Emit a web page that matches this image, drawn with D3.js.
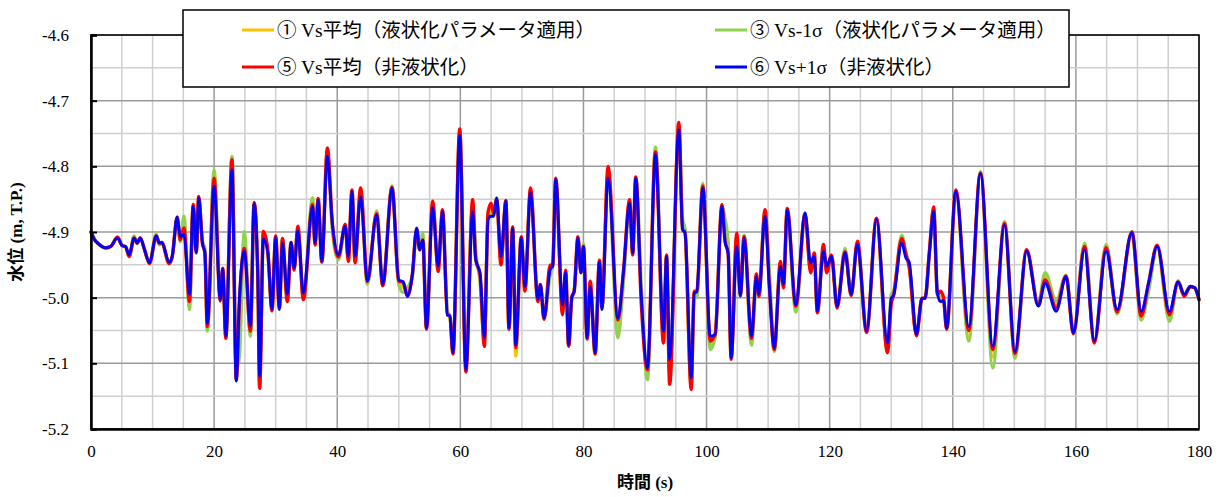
<!DOCTYPE html>
<html><head><meta charset="utf-8">
<script src="https://cdn.jsdelivr.net/npm/d3@7/dist/d3.min.js"></script>
<style>
html,body{margin:0;padding:0;background:#fff;}
svg{display:block;}
text{font-family:"Liberation Serif","Noto Sans CJK JP",serif;fill:#000;}
</style></head>
<body><svg id="chart" width="1226" height="497"></svg>
<script>
const time = [0,0.6,1.1,2.4,3.2,4.3,5.1,5.6,6.2,7.0,
7.5,8.0,8.7,9.5,10.6,11.1,11.5,12.7,13.2,14.0,
14.5,15.1,16.0,16.6,17.1,17.5,18.1,18.5,18.9,20.0,
21.0,21.4,21.9,22.9,23.6,24.1,24.9,25.9,26.5,27.1,
27.4,28.0,28.7,29.4,30.0,30.6,31.1,31.9,32.5,33.0,
33.6,34.5,36.0,36.4,36.9,37.5,38.4,39.2,40.2,41.3,
41.8,42.4,42.9,43.8,44.9,46.4,47.4,48.9,50.0,50.7,
51.4,52.2,52.9,53.4,53.9,54.5,55.5,56.4,57.1,57.9,
58.3,58.8,59.9,60.9,62.0,62.5,63.2,63.9,64.5,65.0,
65.4,65.9,66.6,67.4,67.9,68.5,69.0,69.9,70.5,71.4,
72.6,73.0,73.6,74.6,75.0,75.5,76.6,77.1,77.6,78.1,
78.5,79.1,79.6,80.0,80.6,81.1,81.9,82.6,83.0,84.0,
85.6,86.5,87.5,88.0,88.5,89.4,90.4,91.7,93.0,93.5,
94.0,95.5,96.1,96.5,97.5,98.0,98.4,99.4,100.6,101.4,
102.5,103.0,103.5,104.0,104.9,105.5,106.1,107.3,108.1,108.5,
109.5,110.2,111.0,112.0,112.5,113.1,114.5,116.0,116.9,117.5,
118.0,119.0,119.5,120.3,121.2,122.5,123.5,124.5,126.0,127.6,
129.4,130.0,130.4,131.7,132.4,132.9,134.1,135.0,135.5,136.2,
136.9,137.5,138.0,138.5,139.0,140.5,142.6,144.5,146.5,148.4,
150.1,152.0,153.9,155.0,156.8,158.4,159.6,161.4,163.0,164.9,
166.7,169.1,170.6,171.8,173.2,175.2,176.6,177.6,178.6,179.3,
180.0];

// ① Vs平均（液状化パラメータ適用）
const vsAvgLiq = [-4.900,-4.912,-4.917,-4.924,-4.922,-4.908,-4.921,-4.922,-4.937,-4.907,
-4.917,-4.909,-4.927,-4.948,-4.904,-4.919,-4.916,-4.948,-4.937,-4.878,
-4.912,-4.885,-5.010,-4.860,-4.931,-4.847,-4.916,-4.928,-5.047,-4.812,
-5.002,-4.956,-5.060,-4.788,-5.118,-5.040,-4.912,-5.055,-4.856,-4.965,
-5.135,-4.902,-4.928,-5.018,-4.907,-5.017,-4.911,-5.003,-4.916,-4.956,
-4.893,-5.000,-4.853,-4.918,-4.850,-4.945,-4.776,-4.890,-4.940,-4.890,
-4.942,-4.837,-4.944,-4.836,-4.978,-4.870,-4.981,-4.831,-4.977,-4.984,
-4.990,-4.966,-4.895,-4.927,-4.907,-5.047,-4.856,-4.955,-4.868,-5.023,
-5.028,-5.085,-4.747,-5.106,-4.856,-4.936,-4.970,-5.070,-4.876,-4.862,
-4.874,-4.849,-4.945,-4.853,-5.047,-4.893,-5.089,-4.908,-4.988,-4.836,
-5.003,-4.980,-5.032,-4.960,-4.952,-4.820,-5.020,-4.960,-5.073,-5.000,
-4.990,-4.909,-4.962,-4.920,-5.062,-4.979,-5.085,-4.944,-5.017,-4.808,
-5.045,-4.968,-4.853,-4.933,-4.817,-4.992,-5.115,-4.775,-5.060,-4.936,
-5.118,-4.738,-4.888,-4.898,-5.135,-4.992,-4.995,-4.828,-5.072,-5.058,
-4.860,-4.897,-4.923,-5.093,-4.906,-4.996,-4.906,-5.066,-4.970,-4.996,
-4.868,-4.972,-5.080,-4.948,-4.982,-4.866,-5.016,-4.872,-4.955,-4.935,
-5.022,-4.927,-4.957,-4.936,-5.014,-4.928,-4.996,-4.917,-5.052,-4.880,
-5.082,-5.003,-4.993,-4.908,-4.934,-4.950,-5.057,-5.001,-5.001,-4.931,
-4.865,-4.994,-4.998,-5.002,-5.047,-4.838,-5.060,-4.809,-5.090,-4.886,
-5.088,-4.928,-5.010,-4.968,-5.010,-4.966,-5.054,-4.920,-5.067,-4.922,
-5.022,-4.900,-5.030,-4.985,-4.922,-5.030,-4.975,-4.996,-4.983,-4.985,
-5.003];

// ③ Vs-1σ（液状化パラメータ適用）
const vsMinusLiq = [-4.900,-4.912,-4.917,-4.924,-4.922,-4.908,-4.921,-4.922,-4.938,-4.906,
-4.917,-4.909,-4.927,-4.947,-4.903,-4.920,-4.916,-4.948,-4.937,-4.877,
-4.915,-4.876,-5.018,-4.862,-4.932,-4.848,-4.915,-4.925,-5.051,-4.805,
-4.998,-4.956,-5.058,-4.785,-5.110,-5.090,-4.899,-5.059,-4.858,-4.960,
-5.130,-4.905,-4.930,-5.015,-4.908,-5.018,-4.912,-5.000,-4.916,-4.955,
-4.895,-4.998,-4.848,-4.917,-4.851,-4.945,-4.780,-4.895,-4.942,-4.891,
-4.940,-4.838,-4.942,-4.840,-4.980,-4.868,-4.980,-4.830,-4.980,-4.992,
-4.985,-4.968,-4.894,-4.927,-4.902,-5.046,-4.858,-4.950,-4.869,-5.020,
-5.028,-5.084,-4.750,-5.100,-4.860,-4.930,-4.975,-5.066,-4.881,-4.870,
-4.876,-4.848,-4.942,-4.853,-5.046,-4.894,-5.078,-4.909,-4.986,-4.838,
-5.000,-4.980,-5.031,-4.965,-4.952,-4.822,-5.015,-4.962,-5.072,-5.000,
-4.990,-4.911,-4.962,-4.918,-5.061,-4.983,-5.084,-4.945,-5.018,-4.815,
-5.061,-4.975,-4.855,-4.932,-4.818,-4.985,-5.125,-4.771,-5.055,-4.937,
-5.110,-4.742,-4.880,-4.895,-5.132,-4.993,-5.000,-4.826,-5.079,-5.060,
-4.862,-4.880,-4.915,-5.092,-4.910,-4.998,-4.905,-5.072,-4.975,-4.995,
-4.870,-4.960,-5.082,-4.952,-4.980,-4.868,-5.022,-4.871,-4.950,-4.937,
-5.021,-4.925,-4.952,-4.937,-5.012,-4.925,-4.995,-4.920,-5.051,-4.880,
-5.080,-4.995,-4.990,-4.905,-4.932,-4.948,-5.056,-5.001,-5.001,-4.932,
-4.868,-4.993,-5.006,-5.004,-5.046,-4.840,-5.066,-4.808,-5.107,-4.884,
-5.092,-4.930,-5.008,-4.962,-5.005,-4.966,-5.054,-4.917,-5.066,-4.919,
-5.025,-4.901,-5.034,-4.990,-4.924,-5.036,-4.974,-4.995,-4.983,-4.985,
-5.003];

// ⑤ Vs平均（非液状化）
const vsAvgNon = [-4.900,-4.912,-4.917,-4.924,-4.922,-4.908,-4.921,-4.922,-4.937,-4.909,
-4.917,-4.909,-4.927,-4.948,-4.906,-4.917,-4.916,-4.948,-4.937,-4.878,
-4.912,-4.894,-5.006,-4.858,-4.930,-4.846,-4.917,-4.932,-5.044,-4.818,
-5.005,-4.955,-5.062,-4.790,-5.125,-5.010,-4.925,-5.051,-4.855,-4.970,
-5.138,-4.899,-4.925,-5.020,-4.906,-5.016,-4.910,-5.006,-4.916,-4.958,
-4.891,-5.003,-4.858,-4.920,-4.849,-4.946,-4.772,-4.886,-4.938,-4.888,
-4.945,-4.836,-4.947,-4.833,-4.975,-4.872,-4.982,-4.832,-4.975,-4.976,
-4.998,-4.965,-4.896,-4.927,-4.912,-5.048,-4.853,-4.960,-4.866,-5.026,
-5.028,-5.086,-4.743,-5.113,-4.851,-4.942,-4.965,-5.074,-4.870,-4.856,
-4.872,-4.850,-4.950,-4.852,-5.048,-4.892,-5.076,-4.907,-4.990,-4.833,
-5.006,-4.980,-5.033,-4.950,-4.952,-4.818,-5.026,-4.958,-5.074,-5.000,
-4.990,-4.907,-4.962,-4.922,-5.063,-4.975,-5.086,-4.943,-5.015,-4.800,
-5.034,-4.960,-4.851,-4.935,-4.816,-5.010,-5.110,-4.778,-5.069,-4.935,
-5.132,-4.733,-4.896,-4.901,-5.140,-4.990,-4.991,-4.830,-5.066,-5.056,
-4.858,-4.914,-4.932,-5.094,-4.902,-4.995,-4.907,-5.062,-4.964,-4.998,
-4.866,-4.983,-5.079,-4.945,-4.985,-4.864,-5.013,-4.873,-4.962,-4.932,
-5.023,-4.919,-4.962,-4.935,-5.016,-4.930,-4.997,-4.914,-5.053,-4.879,
-5.084,-5.010,-4.996,-4.910,-4.935,-4.952,-5.058,-5.001,-5.001,-4.930,
-4.862,-4.995,-4.990,-5.000,-5.048,-4.836,-5.050,-4.810,-5.079,-4.887,
-5.085,-4.927,-5.012,-4.973,-5.016,-4.967,-5.055,-4.922,-5.069,-4.924,
-5.022,-4.900,-5.028,-4.978,-4.920,-5.026,-4.976,-4.998,-4.983,-4.985,
-5.003];

// ⑥ Vs+1σ（非液状化）
const vsPlusNon = [-4.900,-4.912,-4.917,-4.924,-4.922,-4.909,-4.921,-4.922,-4.935,-4.909,
-4.917,-4.909,-4.927,-4.947,-4.906,-4.917,-4.916,-4.946,-4.937,-4.877,
-4.907,-4.904,-4.995,-4.861,-4.932,-4.848,-4.917,-4.932,-5.039,-4.830,
-5.003,-4.956,-5.059,-4.805,-5.127,-5.003,-4.929,-5.044,-4.857,-4.968,
-5.120,-4.911,-4.930,-5.018,-4.908,-5.018,-4.917,-4.995,-4.916,-4.955,
-4.898,-4.993,-4.861,-4.917,-4.851,-4.945,-4.785,-4.886,-4.935,-4.891,
-4.937,-4.838,-4.937,-4.846,-4.975,-4.874,-4.980,-4.833,-4.973,-4.976,
-4.998,-4.965,-4.894,-4.927,-4.912,-5.046,-4.863,-4.952,-4.869,-5.026,
-5.028,-5.084,-4.752,-5.110,-4.869,-4.942,-4.962,-5.061,-4.881,-4.876,
-4.876,-4.848,-4.937,-4.853,-5.046,-4.894,-5.072,-4.909,-4.983,-4.840,
-5.003,-4.980,-5.031,-4.957,-4.952,-4.820,-5.011,-4.962,-5.072,-5.000,
-4.990,-4.909,-4.962,-4.922,-5.061,-4.983,-5.084,-4.945,-5.018,-4.818,
-5.031,-4.960,-4.856,-4.932,-4.818,-4.998,-5.107,-4.782,-5.051,-4.937,
-5.094,-4.744,-4.896,-4.901,-5.122,-4.993,-4.991,-4.833,-5.059,-5.056,
-4.861,-4.914,-4.932,-5.092,-4.922,-4.998,-4.909,-5.059,-4.968,-4.995,
-4.876,-4.983,-5.077,-4.952,-4.980,-4.866,-5.011,-4.871,-4.947,-4.937,
-5.021,-4.929,-4.952,-4.937,-5.013,-4.932,-4.995,-4.919,-5.051,-4.881,
-5.069,-5.001,-4.996,-4.917,-4.940,-4.945,-5.056,-5.001,-5.001,-4.932,
-4.869,-4.993,-5.006,-5.004,-5.046,-4.838,-5.044,-4.811,-5.074,-4.889,
-5.082,-4.929,-5.013,-4.978,-5.021,-4.968,-5.054,-4.927,-5.066,-4.929,
-5.018,-4.901,-5.021,-4.978,-4.922,-5.021,-4.976,-4.995,-4.983,-4.985,
-5.003];

const seriesNames = ["① Vs平均（液状化パラメータ適用）","③ Vs-1σ（液状化パラメータ適用）","⑤ Vs平均（非液状化）","⑥ Vs+1σ（非液状化）"];
const seriesColors = ["#FFC000","#92D050","#FF0000","#0000FF"];
const xTicks = [0,20,40,60,80,100,120,140,160,180];
const yTicks = [-4.6,-4.7,-4.8,-4.9,-5.0,-5.1,-5.2];
const xTitle = "時間 (s)";
const yTitle = "水位 (m, T.P.)";

const svg = d3.select("#chart");
const m = {l:91, t:35, r:27, b:68};
const W = 1226, H = 497;
const x = d3.scaleLinear().domain([0,180]).range([m.l, W-m.r]);
const y = d3.scaleLinear().domain([-5.2,-4.6]).range([H-m.b, m.t]);

// grid
const g = svg.append("g");
d3.range(0,181,5).forEach(v=>{
  const major = v%20===0;
  g.append("line").attr("x1",x(v)).attr("x2",x(v)).attr("y1",y(-5.2)).attr("y2",y(-4.6))
   .attr("stroke", major?"#9a9a9a":"#cfcfcf").attr("stroke-width",1.5);
});
d3.range(0,13).forEach(i=>{
  const v = -5.2 + i*0.05;
  const major = i%2===0;
  g.append("line").attr("x1",x(0)).attr("x2",x(180)).attr("y1",y(v)).attr("y2",y(v))
   .attr("stroke", major?"#9a9a9a":"#cfcfcf").attr("stroke-width",1.5);
});

// series
const allSeries = [vsAvgLiq, vsMinusLiq, vsAvgNon, vsPlusNon];
const line = d3.line().x((d,i)=>x(time[i])).y(d=>y(d)).curve(d3.curveMonotoneX);
allSeries.forEach((s,k)=>{
  svg.append("path").datum(s).attr("d",line).attr("fill","none")
    .attr("stroke",seriesColors[k]).attr("stroke-width",k===3?2.8:3.4)
    .attr("stroke-linejoin","round").attr("stroke-linecap","round");
});

// frame
svg.append("rect").attr("x",x(0)).attr("y",y(-4.6)).attr("width",x(180)-x(0)).attr("height",y(-5.2)-y(-4.6))
  .attr("fill","none").attr("stroke","#000").attr("stroke-width",1.5);

// axes
const fmtY = d => d.toFixed(1);
const yAxis = d3.axisLeft(y).tickValues(yTicks).tickSize(-6).tickPadding(22).tickFormat(fmtY);
const ya = svg.append("g").attr("transform",`translate(${x(0)},0)`).call(yAxis);
ya.select(".domain").attr("stroke","#000").attr("stroke-width",2.5);
ya.selectAll(".tick line").attr("stroke","#000").attr("stroke-width",2);
ya.selectAll("text").style("font-size","17px").style("font-family",'"Liberation Serif",serif').attr("fill","#000");

const xAxis = d3.axisBottom(x).tickValues(xTicks).tickSize(0).tickPadding(16).tickFormat(d => String(d));
const xa = svg.append("g").attr("transform",`translate(0,${y(-5.2)})`).call(xAxis);
xa.select(".domain").attr("stroke","#000").attr("stroke-width",2.5);
xa.selectAll("text").style("font-size","17px").style("font-family",'"Liberation Serif",serif').attr("fill","#000");

// titles
svg.append("text").attr("x",(x(0)+x(180))/2).attr("y",488).attr("text-anchor","middle")
  .style("font-size","17px").style("font-weight","bold").text(xTitle);
svg.append("text").attr("transform",`translate(22,${(y(-4.6)+y(-5.2))/2}) rotate(-90)`).attr("text-anchor","middle")
  .style("font-size","17px").style("font-weight","bold").text(yTitle);

// legend
const lg = svg.append("g");
lg.append("rect").attr("x",183).attr("y",10).attr("width",886).attr("height",77)
  .attr("fill","#fff").attr("stroke","#000").attr("stroke-width",1.5);
const pos = [[242,30],[715,30],[242,67],[715,67]];
seriesNames.forEach((n,k)=>{
  const [px,py] = pos[k];
  lg.append("line").attr("x1",px).attr("x2",px+32).attr("y1",py).attr("y2",py)
    .attr("stroke",seriesColors[k]).attr("stroke-width",3);
  lg.append("text").attr("x",px+35).attr("y",py).attr("dominant-baseline","central")
    .style("font-size","19.5px").text(n);
});
</script></body></html>
